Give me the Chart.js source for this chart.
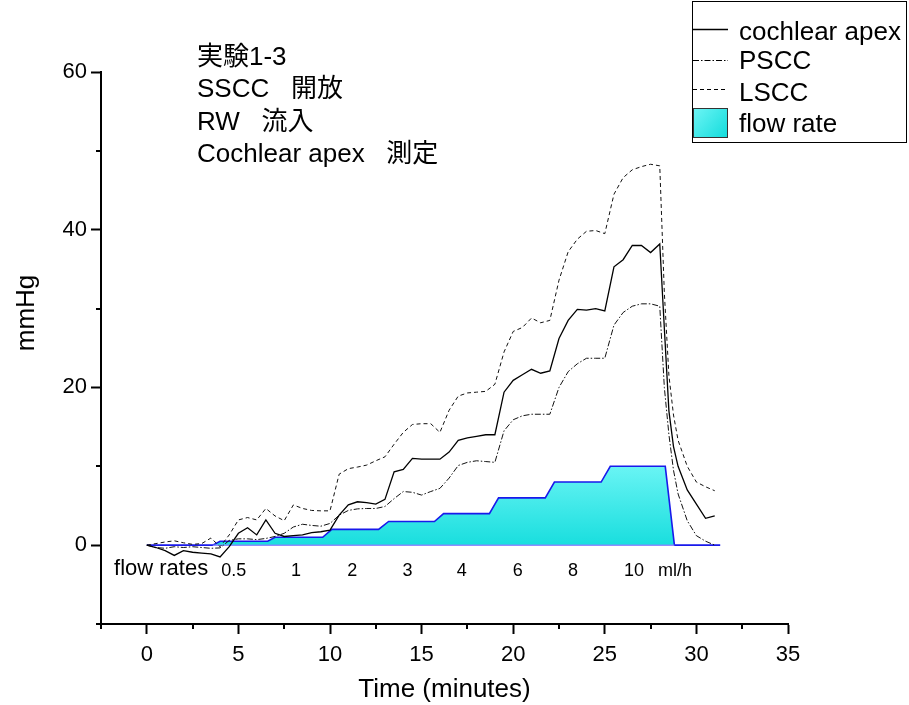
<!DOCTYPE html>
<html><head><meta charset="utf-8">
<script src="https://cdn.jsdelivr.net/npm/chart.js@4.4.1/dist/chart.umd.min.js"></script>
<style>html,body{margin:0;padding:0;background:#fff;}#wrap{width:909px;height:705px;}</style>
</head><body><div id="wrap"><canvas id="c" width="909" height="705"></canvas></div>
<script>
// ---- data ----
const times = [0,0.5,1,1.5,2,2.5,3,3.5,4,4.5,5,5.5,6,6.5,7,7.5,8,8.5,9,9.5,10,10.5,11,11.5,12,12.5,13,13.5,14,14.5,15,15.5,16,16.5,17,17.5,18,18.5,19,19.5,20,20.5,21,21.5,22,22.5,23,23.5,24,24.5,25,25.5,26,26.5,27,27.5,28,28.25,28.5,28.75,29,29.5,30,30.5,31];
const apex = [0,-0.3,-0.7,-1.3,-0.7,-0.9,-1.0,-1.1,-1.5,-0.2,1.5,2.2,1.3,3.2,1.5,1.1,1.2,1.3,1.6,1.7,1.9,3.8,5.1,5.5,5.4,5.2,5.8,9.3,9.6,11.0,10.9,10.9,10.9,11.8,13.3,13.6,13.8,14.0,14.0,19.4,20.9,21.6,22.3,21.8,22.1,26.2,28.5,29.9,29.8,30.0,29.7,35.3,36.2,38.0,38.0,37.1,38.2,27.5,17.0,12.5,10.0,7.0,5.2,3.4,3.7];
const pscc = [0,-0.3,-0.4,-0.2,-0.3,-0.2,-0.3,-0.4,-0.35,0.6,0.8,0.8,0.7,0.85,1.1,1.5,2.3,2.65,2.5,2.4,2.75,3.8,4.4,4.6,4.65,4.65,4.9,5.9,6.8,6.7,6.35,6.8,7.2,8.5,10.1,10.5,10.7,10.6,10.5,14.5,15.9,16.4,16.6,16.6,16.6,20.0,22.0,23.0,23.7,23.7,23.7,27.9,29.5,30.3,30.6,30.6,30.3,20.0,14.0,9.5,6.5,3.1,1.2,0.5,0.0];
const lscc = [0,0.2,0.4,0.55,0.3,0.1,0.2,0.9,-0.2,1.3,3.2,3.5,3.2,4.65,3.7,3.1,5.1,4.65,4.4,4.35,4.35,9.0,9.7,9.9,10.15,10.7,11.2,12.8,14.3,15.3,15.4,15.4,14.3,17.1,18.9,19.3,19.4,19.5,20.4,24.5,27.1,27.6,28.8,28.2,28.5,33.6,37.2,38.8,39.8,39.9,39.5,44.5,46.6,47.6,48.0,48.3,48.1,32.0,21.5,16.5,13.3,10.0,8.0,7.4,6.9];
const flowTimes = [0,3.6,4.0,6.6,7.0,9.6,10.1,12.65,13.2,15.7,16.2,18.7,19.2,21.75,22.25,24.8,25.3,28.3,28.8,31.3];
const flowValues = [0,0,0.5,0.5,1,1,2,2,3,3,4,4,6,6,8,8,10,10,0,0];
const seriesNames = ['cochlear apex','PSCC','LSCC','flow rate'];
const xMajorTicks = [0,5,10,15,20,25,30,35];
const xMinorTicks = [-2.5,2.5,7.5,12.5,17.5,22.5,27.5,32.5];
const yMajorTicks = [0,20,40,60];
const yMinorTicks = [-10,10,30,50];
const rateLabels = ['0.5','1','2','3','4','6','8','10','ml/h'];
const rateLabelX = [4.74,8.15,11.21,14.23,17.19,20.25,23.26,26.59,28.83];
const titleLines = ['実験1-3','SSCC   開放','RW   流入','Cochlear apex   測定'];
const yTitle = 'mmHg';

const FONT = '"Liberation Sans", Arial, "Noto Sans CJK JP", sans-serif';
const pts = (xs, ys) => xs.map((x, i) => ({x, y: ys[i]}));

function flowGradient(ctx) {
  const chart = ctx.chart;
  if (!chart.chartArea) return 'rgb(40,225,225)';
  const y0 = chart.scales.y.getPixelForValue(10);
  const y1 = chart.scales.y.getPixelForValue(0);
  const g = chart.ctx.createLinearGradient(0, y0, 0, y1);
  g.addColorStop(0, 'rgb(105,244,244)');
  g.addColorStop(1, 'rgb(25,222,222)');
  return g;
}

const overlay = {
  id: 'overlay',
  afterDatasetDraw(chart, args) {
    if (args.index !== 3) return;
    const c = chart.ctx, x = chart.scales.x, y = chart.scales.y;
    c.save();
    c.strokeStyle = 'rgba(140,130,255,0.9)';
    c.lineWidth = 1.5;
    c.beginPath();
    c.moveTo(x.getPixelForValue(flowTimes[1]), y.getPixelForValue(0));
    c.lineTo(x.getPixelForValue(flowTimes[18]), y.getPixelForValue(0));
    c.stroke();
    c.restore();
  },
  afterDraw(chart) {
    const c = chart.ctx, x = chart.scales.x, y = chart.scales.y;
    const ca = chart.chartArea;
    c.save();
    // minor ticks
    c.strokeStyle = '#000'; c.lineWidth = 2;
    c.beginPath();
    xMinorTicks.forEach(v => { const px = Math.round(x.getPixelForValue(v)); c.moveTo(px, ca.bottom); c.lineTo(px, ca.bottom + 5); });
    yMinorTicks.forEach(v => { const py = Math.round(y.getPixelForValue(v)); c.moveTo(ca.left, py); c.lineTo(ca.left - 5, py); });
    c.stroke();
    // y axis title
    c.fillStyle = '#000';
    c.save();
    c.translate(27, 313);
    c.rotate(-Math.PI / 2);
    c.textAlign = 'center'; c.textBaseline = 'middle';
    c.font = '26px ' + FONT;
    c.fillText(yTitle, 0, 0);
    c.restore();
    // flow rate labels
    c.textBaseline = 'alphabetic';
    c.textAlign = 'center';
    const by = y.getPixelForValue(-3.8);
    c.font = '22px ' + FONT;
    c.fillText('flow rates', x.getPixelForValue(0.78), by);
    c.font = '18px ' + FONT;
    rateLabels.forEach((t, i) => c.fillText(t, x.getPixelForValue(rateLabelX[i]), by + 1));
    // title block
    c.textAlign = 'left';
    c.font = '26px ' + FONT;
    titleLines.forEach((t, i) => c.fillText(t, 197, 65 + i * 32.3));
    // legend
    c.lineWidth = 1; c.strokeStyle = '#000';
    c.strokeRect(692.5, 1.5, 214, 141);
    const rows = [[29.5, [], 1.3], [60.5, [6,2,1.5,2], 1], [89.5, [4,3], 1]];
    rows.forEach(r => {
      c.setLineDash(r[1]); c.lineWidth = r[2];
      c.beginPath(); c.moveTo(693, r[0]); c.lineTo(728, r[0]); c.stroke();
    });
    c.setLineDash([]);
    const g = c.createLinearGradient(693, 108, 727, 137);
    g.addColorStop(0, 'rgb(110,245,245)'); g.addColorStop(1, 'rgb(20,220,220)');
    c.fillStyle = g; c.fillRect(693, 108, 34, 29);
    c.strokeStyle = '#333'; c.lineWidth = 1; c.strokeRect(693.5, 108.5, 34, 29);
    c.fillStyle = '#000';
    c.font = '26px ' + FONT;
    const ty = [40, 69, 100.5, 131.5];
    seriesNames.forEach((n, i) => c.fillText(n, 739, ty[i]));
    c.restore();
  }
};

new Chart(document.getElementById('c'), {
  type: 'line',
  data: {
    datasets: [
      {label: seriesNames[0], data: pts(times, apex), borderColor: '#000', borderWidth: 1.3, pointRadius: 0, tension: 0, fill: false},
      {label: seriesNames[1], data: pts(times, pscc), borderColor: '#111', borderWidth: 1, borderDash: [6,2,1.5,2], pointRadius: 0, tension: 0, fill: false},
      {label: seriesNames[2], data: pts(times, lscc), borderColor: '#111', borderWidth: 1, borderDash: [4,3], pointRadius: 0, tension: 0, fill: false},
      {label: seriesNames[3], data: pts(flowTimes, flowValues), borderColor: 'rgb(25,25,235)', borderWidth: 1.6, backgroundColor: flowGradient, pointRadius: 0, tension: 0, fill: 'origin'}
    ]
  },
  options: {
    responsive: false, animation: false, devicePixelRatio: 1,
    layout: {padding: {left: 0, top: 72, right: 121, bottom: 0}},
    plugins: {legend: {display: false}, tooltip: {enabled: false}},
    scales: {
      x: {
        type: 'linear', min: -2.5, max: 35,
        afterBuildTicks: s => { s.ticks = xMajorTicks.map(v => ({value: v})); },
        afterFit: s => { s.height = 81; },
        ticks: {color: '#000', font: {size: 22, family: FONT}, padding: 8, maxRotation: 0, autoSkip: false},
        grid: {drawOnChartArea: false, drawTicks: true, tickLength: 10, tickColor: '#000', tickWidth: 2},
        border: {display: true, color: '#000', width: 2},
        title: {display: true, text: 'Time (minutes)', color: '#000', font: {size: 26, family: FONT}, padding: {top: 0, bottom: 0}}
      },
      y: {
        type: 'linear', min: -10, max: 60,
        afterBuildTicks: s => { s.ticks = yMajorTicks.map(v => ({value: v})); },
        afterFit: s => { s.width = 101; },
        ticks: {color: '#000', font: {size: 22, family: FONT}, padding: 4, autoSkip: false},
        grid: {drawOnChartArea: false, drawTicks: true, tickLength: 10, tickColor: '#000', tickWidth: 2},
        border: {display: true, color: '#000', width: 2},
        title: {display: false}
      }
    }
  },
  plugins: [overlay]
});
</script></body></html>
